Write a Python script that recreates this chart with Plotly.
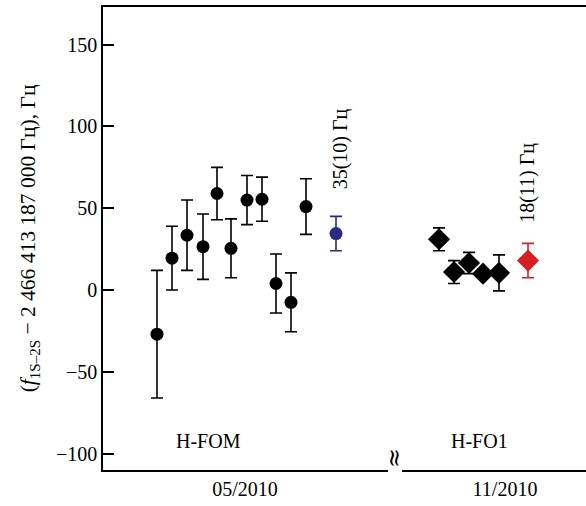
import plotly.graph_objects as go

# H-FOM (05/2010) measurements
x_fom = [5.4, 6.9, 8.4, 10.0, 11.4, 12.8, 14.4, 15.9, 17.3, 18.8, 20.3]
y_fom = [-27, 19.5, 33.5, 26.5, 59, 25.5, 55, 55.5, 4, -7.5, 51]
e_fom = [39, 19.5, 21.5, 20, 16, 18, 15, 13.5, 18, 18, 17]
x_fom_mean = [23.3]
y_fom_mean = [34.5]
e_fom_mean = [10.5]

# H-FO1 (11/2010) measurements
x_fo1 = [33.6, 35.1, 36.6, 38.0, 39.6]
y_fo1 = [31, 11, 16.5, 10, 10.5]
e_fo1 = [7, 7, 6.5, 2, 11]
x_fo1_mean = [42.5]
y_fo1_mean = [18]
e_fo1_mean = [10.5]

x_ticks = [14.2, 40.2]
x_ticklabels = ["05/2010", "11/2010"]
y_ticks = [-100, -50, 0, 50, 100, 150]

FONT = "Liberation Serif, Times New Roman, serif"

fig = go.Figure()

def add(x, y, e, color, symbol, size):
    fig.add_trace(go.Scatter(
        x=x, y=y, mode="markers",
        marker=dict(color=color, symbol=symbol, size=size, line=dict(width=0)),
        error_y=dict(type="data", array=e, visible=True, color=color, thickness=1.6, width=6),
        showlegend=False))

add(x_fom, y_fom, e_fom, "black", "circle", 13)
add(x_fom_mean, y_fom_mean, e_fom_mean, "#2a2a80", "circle", 13)
add(x_fo1, y_fo1, e_fo1, "black", "diamond", 17)
add(x_fo1_mean, y_fo1_mean, e_fo1_mean, "#d81e24", "diamond", 17)

ann = [
    dict(x=23.7, y=86, text="35(10) Гц", textangle=-90, showarrow=False,
         font=dict(family=FONT, size=20, color="black")),
    dict(x=42.5, y=65.5, text="18(11) Гц", textangle=-90, showarrow=False,
         font=dict(family=FONT, size=20, color="black")),
    dict(x=10.5, y=-92, text="H-FOM", showarrow=False,
         font=dict(family=FONT, size=20, color="black")),
    dict(x=37.6, y=-92, text="H-FO1", showarrow=False,
         font=dict(family=FONT, size=20, color="black")),
    dict(x=29.2, y=0, yref="paper", text="≈", textangle=90, showarrow=False,
         font=dict(family="DejaVu Serif", size=24, color="black")),
]

shapes = [
    dict(type="rect", xref="x", yref="paper", x0=28.5, x1=29.9, y0=-0.01, y1=0.01,
         fillcolor="white", line=dict(width=0), layer="above"),
]

fig.update_layout(
    width=586, height=506,
    margin=dict(l=103, r=0, t=7, b=36, autoexpand=False),
    plot_bgcolor="white", paper_bgcolor="white",
    font=dict(family=FONT, size=20, color="black"),
    annotations=ann, shapes=shapes,
    xaxis=dict(range=[0, 48.3], showgrid=False, zeroline=False, automargin=False,
               showline=True, linecolor="black", linewidth=1.6, mirror=True,
               tickmode="array", tickvals=x_ticks, ticktext=x_ticklabels,
               ticks="", ticklen=0, tickfont=dict(family=FONT, size=20, color="black")),
    yaxis=dict(range=[-110, 173], showgrid=False, zeroline=False, automargin=False,
               showline=True, linecolor="black", linewidth=1.6, mirror=False,
               tickmode="array", tickvals=y_ticks, ticks="inside", ticklen=11,
               tickwidth=1.5, tickcolor="black",
               tickfont=dict(family=FONT, size=20, color="black"),
               title=dict(text="(<i>f</i><sub>1S–2S</sub> − 2 466 413 187 000 Гц), Гц",
                          font=dict(family=FONT, size=21.5, color="black"), standoff=14)),
)

fig.write_html("out.html", config={"displayModeBar": False},
               post_script="document.body.style.margin='0';document.body.style.overflow='hidden';")
